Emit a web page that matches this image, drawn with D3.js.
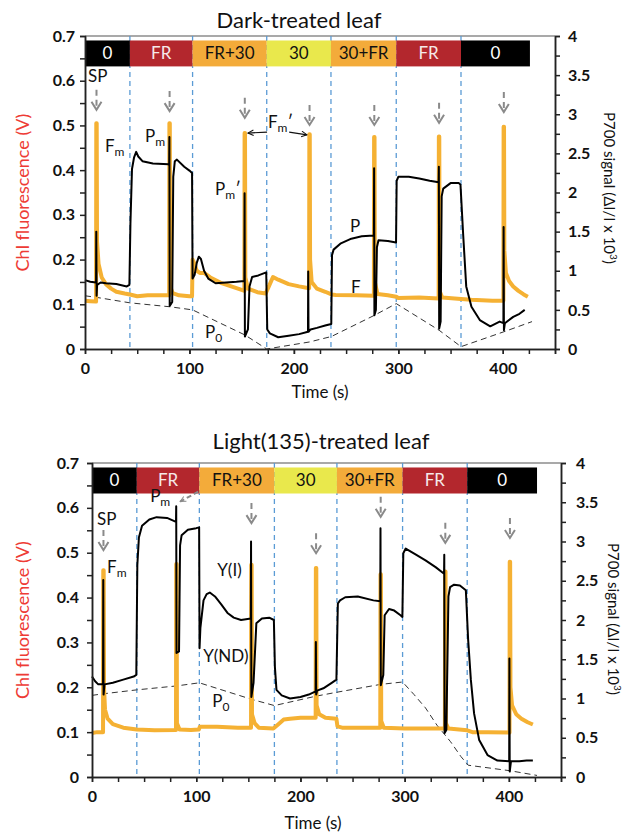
<!DOCTYPE html>
<html>
<head>
<meta charset="utf-8">
<script src="https://cdn.jsdelivr.net/npm/d3@7"></script>
<style>
  body { margin: 0; background: #fff; }
  svg { font-family: Lato, "Open Sans", sans-serif; }
</style>
</head>
<body>
<svg id="chart" width="624" height="834"></svg>
<script>
// light phases shown in the bar on top of each panel
const phaseNames = ['0', 'FR', 'FR+30', '30', '30+FR', 'FR', '0']
const phaseColors = ['#000000', '#b3272d', '#f3ab3a', '#e9e84c', '#f3ab3a', '#b3272d', '#000000']
const phaseText = ['#ffffff', '#f6e9e9', '#111111', '#111111', '#111111', '#f6e9e9', '#ffffff']
const darkPhaseT = [0, 43, 103, 174, 235.5, 298, 360, 426]
const lightPhaseT = [0, 43, 103, 175, 235, 298, 360, 427]

const xTicks = [0, 100, 200, 300, 400]
const leftTicks = [0, 0.1, 0.2, 0.3, 0.4, 0.5, 0.6, 0.7]
const rightTicks = [0, 0.5, 1, 1.5, 2, 2.5, 3, 3.5, 4]

// ---- dark-treated leaf ----
// Chl fluorescence (V), left axis
const darkF = [[0,0.108],[5,0.107],[10.6,0.106],[10.8,0.505],[11.2,0.505],[11.5,0.24],[13,0.19],[16,0.16],[20,0.145],[25,0.135],[30,0.128],[38,0.124],[43,0.122],[50,0.118],[60,0.12],[70,0.12],[80.6,0.12],[80.8,0.505],[81.2,0.505],[81.5,0.14],[84,0.125],[90,0.12],[100,0.118],[102.5,0.118],[103,0.2],[105,0.19],[107,0.175],[110,0.17],[114,0.17],[120,0.16],[130,0.148],[140,0.14],[150,0.132],[152.6,0.13],[152.8,0.483],[153.2,0.483],[153.5,0.16],[156,0.135],[165,0.127],[173,0.124],[176,0.14],[180,0.161],[185,0.155],[195,0.145],[205,0.14],[214.6,0.136],[214.8,0.48],[215.2,0.48],[215.5,0.2],[217,0.15],[222,0.135],[230,0.128],[236,0.122],[240,0.121],[260,0.12],[276.6,0.119],[276.8,0.474],[277.2,0.474],[277.5,0.15],[280,0.123],[290,0.12],[298,0.117],[300,0.114],[320,0.115],[338.6,0.113],[338.8,0.475],[339.2,0.475],[339.5,0.13],[342,0.115],[360,0.112],[370,0.11],[390,0.108],[400.6,0.108],[400.8,0.497],[401.2,0.497],[401.5,0.22],[403,0.17],[406,0.152],[410,0.14],[415,0.13],[420,0.122],[424,0.117]]
// P700 signal, right axis
const darkP = [[0,0.88],[5,0.86],[10.6,0.85],[10.8,1.5],[11.1,0.68],[11.6,0.82],[15,0.85],[20,0.84],[30,0.83],[40,0.8],[42.5,0.82],[43.5,1.6],[45,2.3],[47,2.45],[49,2.52],[51,2.46],[55,2.4],[65,2.37],[80,2.36],[80.6,2.35],[80.8,2.71],[81.1,0.55],[83.5,0.6],[84.5,2.2],[86,2.4],[88,2.42],[95,2.33],[100,2.28],[102.5,2.25],[103,0.9],[105,0.95],[107,1.1],[109,1.18],[111,1.15],[114,1.0],[118,0.9],[125,0.84],[135,0.85],[145,0.86],[152.6,0.87],[152.8,1.99],[153.1,0.16],[156,0.25],[157.5,0.8],[160,0.92],[166,0.94],[173.5,0.98],[174.5,0.25],[177,0.2],[185,0.15],[195,0.17],[205,0.19],[213.5,0.22],[213.7,0.99],[214,0.22],[216,0.25],[222,0.27],[230,0.3],[235.8,0.32],[236.5,1.2],[238,1.27],[245,1.35],[255,1.41],[265,1.44],[276.6,1.45],[276.8,2.31],[277.1,0.43],[278.5,0.5],[279.5,1.3],[281,1.39],[290,1.38],[297.8,1.36],[298.4,2.15],[300,2.2],[310,2.2],[320,2.18],[330,2.15],[338.6,2.13],[338.8,2.33],[339.1,0.26],[340.5,0.35],[341.5,1.95],[343,2.05],[350,2.12],[358,2.12],[359.5,2.1],[362,1.48],[365,0.8],[370,0.54],[378,0.37],[388,0.29],[397,0.35],[400.6,0.33],[400.8,1.56],[401.1,0.24],[402,0.33],[410,0.41],[416,0.45],[421,0.5]]
// P0 guide (dashed), right axis
const darkP0 = [[0,0.68],[11,0.66],[43,0.59],[81,0.54],[103,0.5],[153,0.18],[174,0.0],[215,0.09],[236,0.16],[277,0.43],[298,0.58],[339,0.24],[360,0.03],[401,0.22],[428,0.35]]
// saturating pulses (time) and arrow tip level (V)
const darkArrows = [[11,0.535],[81,0.532],[153,0.517],[215,0.501],[277,0.501],[339,0.506],[401,0.53]]
const darkLabels = [
  {t: 2.9, v: 0.597, text: 'SP'},
  {t: 19.1, v: 0.441, text: 'F', sub: 'm'},
  {t: 57.4, v: 0.463, text: 'P', sub: 'm'},
  {t: 124.5, v: 0.345, text: 'P', sub: 'm', post: '\u2032'},
  {t: 175.2, v: 0.494, text: 'F', sub: 'm', post: '\u2032'},
  {t: 114.9, v: 0.025, text: 'P', sub: '0'},
  {t: 253.7, v: 0.262, text: 'P'},
  {t: 254.6, v: 0.125, text: 'F'}
]
const darkFmArrows = [[[174.3, 0.485], [156, 0.483]], [[195.5, 0.485], [212.6, 0.479]]]

// ---- light(135)-treated leaf ----
const lightF = [[0,0.098],[5,0.1],[10.6,0.1],[10.8,0.461],[11.2,0.461],[11.5,0.2],[12.5,0.15],[15,0.13],[20,0.118],[30,0.11],[43,0.106],[60,0.104],[80.6,0.105],[80.8,0.475],[81.2,0.475],[81.5,0.12],[84,0.106],[95,0.105],[102.5,0.106],[103.5,0.112],[120,0.112],[140,0.11],[152.6,0.11],[152.8,0.473],[153.2,0.473],[153.5,0.14],[156,0.12],[160,0.11],[174,0.108],[178,0.116],[184,0.128],[190,0.13],[200,0.132],[214.6,0.132],[214.8,0.466],[215.2,0.466],[215.5,0.16],[218,0.14],[224,0.132],[234.5,0.13],[235.5,0.113],[240,0.11],[260,0.11],[276.6,0.11],[276.8,0.452],[277.2,0.452],[277.5,0.125],[280,0.11],[300,0.108],[320,0.108],[338.6,0.108],[338.8,0.458],[339.2,0.458],[339.5,0.12],[342,0.108],[360,0.104],[365,0.1],[380,0.1],[400.6,0.099],[400.8,0.48],[401.2,0.48],[401.5,0.2],[403,0.16],[407,0.14],[412,0.13],[418,0.122],[423,0.117]]
const lightP = [[0,1.28],[3,1.22],[6,1.18],[10.6,1.18],[10.8,2.51],[11.1,1.05],[12,1.18],[20,1.2],[30,1.24],[40,1.28],[42.5,1.3],[43.5,2.7],[45,3.05],[48,3.2],[55,3.28],[62,3.31],[72,3.3],[80.6,3.25],[80.8,3.45],[81.1,1.58],[83.5,1.6],[84.5,2.95],[86,3.08],[92,3.15],[100,3.17],[102.8,3.18],[103.2,1.64],[104,1.9],[107,2.25],[110,2.33],[113,2.35],[118,2.3],[124,2.2],[130,2.09],[136,2.03],[143,2.0],[152.4,2.02],[152.6,3.0],[152.9,1.02],[155,1.2],[157.7,1.96],[163,2.02],[170,2.03],[174.5,2.0],[175.5,1.4],[177,1.11],[182,1.04],[190,1.0],[200,1.02],[208,1.05],[214.6,1.09],[214.8,1.72],[215.1,1.05],[216,1.1],[222,1.13],[230,1.2],[234.5,1.24],[235.9,2.21],[238,2.25],[243,2.29],[255,2.3],[270,2.25],[276.6,2.24],[276.8,3.17],[277.1,1.17],[279.5,1.3],[280.8,2.06],[285,2.14],[290,2.12],[296,2.06],[297.8,2.04],[298.7,2.85],[301,2.91],[310,2.84],[320,2.76],[330,2.67],[337.8,2.59],[338,2.83],[338.3,0.56],[340,0.6],[342,2.3],[343.6,2.42],[347.4,2.45],[353,2.44],[358.7,2.38],[360.9,1.75],[363.5,1.24],[366.6,0.81],[371.5,0.47],[379.5,0.28],[389,0.21],[400.3,0.2],[400.5,1.51],[400.8,0.07],[402,0.2],[410,0.2],[417,0.21],[423,0.21]]
const lightP0 = [[0,1.04],[11,1.06],[43,1.11],[81,1.16],[103,1.2],[153,0.99],[175,0.91],[215,1.03],[235,1.08],[277,1.18],[298,1.21],[309,1.05],[320,0.88],[331,0.66],[344,0.45],[354,0.26],[361,0.15],[401,0.08],[427,0.02]]
const lightArrows = [[11,0.506],[153,0.566],[215,0.499],[277,0.58],[339,0.522],[401,0.533]]
const lightLabels = [
  {t: 4.8, v: 0.562, text: 'SP'},
  {t: 14.4, v: 0.455, text: 'F', sub: 'm'},
  {t: 55.8, v: 0.614, text: 'P', sub: 'm'},
  {t: 120.2, v: 0.447, text: 'Y(I)'},
  {t: 106.7, v: 0.257, text: 'Y(ND)'},
  {t: 115.4, v: 0.157, text: 'P', sub: '0'}
]
const lightPmArrow = [[101.9, 0.636], [84.6, 0.614]]

const svg = d3.select('#chart')

svg.append('defs').append('marker')
  .attr('id', 'open')
  .attr('viewBox', '0 0 10 10')
  .attr('refX', 9).attr('refY', 5)
  .attr('markerWidth', 7).attr('markerHeight', 7)
  .attr('markerUnits', 'userSpaceOnUse')
  .attr('orient', 'auto')
  .append('path')
  .attr('d', 'M1,1L9,5L1,9')
  .attr('fill', 'none')
  .attr('stroke', 'context-stroke')
  .attr('stroke-width', 1.4)

function drawPanel(p) {
  let g = svg.append('g')

  let x = d3.scaleLinear().domain([0, 450]).range([p.left, p.right])
  let yL = d3.scaleLinear().domain([0, 0.7]).range([p.bottom, p.top])
  let yR = d3.scaleLinear().domain([0, 4]).range([p.bottom, p.top])

  // title
  g.append('text')
    .attr('x', p.titleX).attr('y', p.titleY)
    .attr('text-anchor', 'middle')
    .attr('font-size', 22)
    .attr('fill', '#111')
    .text(p.title)

  // top border
  g.append('line')
    .attr('x1', p.left).attr('x2', p.right)
    .attr('y1', p.top).attr('y2', p.top)
    .attr('stroke', '#8c8c8c').attr('stroke-width', 1.5)

  // phase boundaries
  g.append('g').selectAll('line')
    .data(p.phaseT.slice(1, -1))
    .enter()
    .append('line')
    .attr('x1', d => x(d)).attr('x2', d => x(d))
    .attr('y1', p.top).attr('y2', p.bottom)
    .attr('stroke', '#5b9bd5')
    .attr('stroke-width', 1.3)
    .attr('stroke-dasharray', '5,4')

  // light bar
  let bar = g.append('g')
  let barTop = yL(0.69), barBot = yL(0.632)
  bar.selectAll('rect')
    .data(phaseNames)
    .enter()
    .append('rect')
    .attr('x', (d, i) => x(p.phaseT[i]))
    .attr('width', (d, i) => x(p.phaseT[i + 1]) - x(p.phaseT[i]))
    .attr('y', barTop)
    .attr('height', barBot - barTop)
    .attr('fill', (d, i) => phaseColors[i])
  bar.selectAll('text')
    .data(phaseNames)
    .enter()
    .append('text')
    .attr('x', (d, i) => (x(p.phaseT[i]) + x(p.phaseT[i + 1])) / 2)
    .attr('y', (barTop + barBot) / 2 + 6)
    .attr('text-anchor', 'middle')
    .attr('font-size', 17)
    .attr('fill', (d, i) => phaseText[i])
    .text(d => d)

  // P0 dashed guide
  g.append('path')
    .datum(p.p0)
    .attr('d', d3.line().x(d => x(d[0])).y(d => yR(d[1])))
    .attr('fill', 'none')
    .attr('stroke', '#333')
    .attr('stroke-width', 1)
    .attr('stroke-dasharray', '6,4')

  // chl fluorescence
  g.append('path')
    .datum(p.chl)
    .attr('d', d3.line().x(d => x(d[0])).y(d => yL(d[1])))
    .attr('fill', 'none')
    .attr('stroke', '#f5b133')
    .attr('stroke-width', 4)
    .attr('stroke-linejoin', 'round')

  // P700
  g.append('path')
    .datum(p.p700)
    .attr('d', d3.line().x(d => x(d[0])).y(d => yR(d[1])))
    .attr('fill', 'none')
    .attr('stroke', '#000')
    .attr('stroke-width', 2)
    .attr('stroke-linejoin', 'round')

  // SP arrows
  let arrows = g.append('g').attr('stroke', '#8a8a8a').attr('stroke-width', 2).attr('fill', 'none')
  p.arrows.forEach(a => {
    let ax = x(a[0]), ay = yL(a[1])
    arrows.append('line')
      .attr('x1', ax).attr('x2', ax)
      .attr('y1', ay - 20).attr('y2', ay - 2)
      .attr('stroke-dasharray', '6,4')
    arrows.append('path')
      .attr('d', `M${ax - 5},${ay - 8}L${ax},${ay}L${ax + 5},${ay - 8}`)
  })

  // annotations
  p.labels.forEach(l => {
    let t = g.append('text')
      .attr('x', x(l.t)).attr('y', yL(l.v))
      .attr('font-size', 17)
      .attr('fill', '#111')
    t.append('tspan').text(l.text)
    if (l.sub) t.append('tspan').attr('font-size', 12).attr('dy', 4).text(l.sub)
    if (l.post) t.append('tspan').attr('dy', -4).text(l.post)
  })

  // axes
  let axL = g.append('g')
    .attr('transform', `translate(${p.left},0)`)
    .call(d3.axisLeft(yL).tickValues(leftTicks).tickSize(5).tickSizeOuter(0)
      .tickFormat(d => d === 0 ? '0' : d3.format('.1f')(d)))
  g.append('g')
    .attr('transform', `translate(${p.left},0)`)
    .call(d3.axisLeft(yL).tickValues(leftTicks.slice(0, -1).map(d => d + 0.05)).tickSize(5).tickFormat(''))
  let axR = g.append('g')
    .attr('transform', `translate(${p.right},0)`)
    .call(d3.axisRight(yR).tickValues(rightTicks).tickSize(5).tickSizeOuter(0)
      .tickFormat(d => String(d)))
  g.append('g')
    .attr('transform', `translate(${p.right},0)`)
    .call(d3.axisRight(yR).tickValues(rightTicks.slice(0, -1).map(d => d + 0.25)).tickSize(5).tickFormat(''))
  let axB = g.append('g')
    .attr('transform', `translate(0,${p.bottom})`)
    .call(d3.axisBottom(x).tickValues(xTicks).tickSize(5).tickSizeOuter(0))
  g.append('g')
    .attr('transform', `translate(0,${p.bottom})`)
    .call(d3.axisBottom(x).tickValues(d3.range(0, 18).map(i => i * 25 + 25)).tickSize(5).tickFormat(''))

  g.selectAll('.domain, .tick line').attr('stroke', '#222').attr('stroke-width', 1.5)
  g.selectAll('.tick text')
    .attr('font-size', 16).attr('font-weight', 'bold')
    .attr('font-family', 'Lato, "Open Sans", sans-serif').attr('fill', '#111')
  axL.selectAll('.tick text').attr('x', -p.leftGap)
  axR.selectAll('.tick text').attr('x', p.rightGap)
  axB.selectAll('.tick text').attr('y', 14)

  // axis titles
  g.append('text')
    .attr('transform', `translate(${p.leftTitleX},${(p.top + p.bottom) / 2}) rotate(-90)`)
    .attr('text-anchor', 'middle')
    .attr('font-size', 18)
    .attr('fill', '#ee3b35')
    .text('Chl fluorescence (V)')
  let rt = g.append('text')
    .attr('transform', `translate(${p.rightTitleX},${p.rightTitleY}) rotate(90)`)
    .attr('text-anchor', 'middle')
    .attr('font-size', 15)
    .attr('fill', '#111')
  rt.append('tspan').text('P700 signal (\u0394I/I x 10')
  rt.append('tspan').attr('font-size', 10).attr('dy', -6).text('3')
  rt.append('tspan').attr('dy', 6).text(')')
  g.append('text')
    .attr('x', p.timeX).attr('y', p.timeY)
    .attr('text-anchor', 'middle')
    .attr('font-size', 17)
    .attr('fill', '#111')
    .text('Time (s)')

  return {g, x, yL, yR}
}

let topPanel = drawPanel({
  left: 85, right: 555, top: 36, bottom: 349,
  title: 'Dark-treated leaf', titleX: 299, titleY: 28,
  phaseT: darkPhaseT, chl: darkF, p700: darkP, p0: darkP0,
  arrows: darkArrows, labels: darkLabels,
  leftGap: 10, rightGap: 13, leftTitleX: 29, rightTitleX: 604, rightTitleY: 188,
  timeX: 320, timeY: 398
})

// double-headed Fm' arrow
darkFmArrows.forEach(a => {
  topPanel.g.append('path')
    .datum(a)
    .attr('d', d3.line().x(d => topPanel.x(d[0])).y(d => topPanel.yL(d[1])))
    .attr('fill', 'none')
    .attr('stroke', '#111')
    .attr('stroke-width', 1.2)
    .attr('marker-end', 'url(#open)')
})

let bottomPanel = drawPanel({
  left: 92, right: 561, top: 463, bottom: 777,
  title: 'Light(135)-treated leaf', titleX: 321, titleY: 449,
  phaseT: lightPhaseT, chl: lightF, p700: lightP, p0: lightP0,
  arrows: lightArrows, labels: lightLabels,
  leftGap: 13, rightGap: 15, leftTitleX: 29, rightTitleX: 608, rightTitleY: 619,
  timeX: 313, timeY: 829
})

bottomPanel.g.append('path')
  .datum(lightPmArrow)
  .attr('d', d3.line().x(d => bottomPanel.x(d[0])).y(d => bottomPanel.yL(d[1])))
  .attr('fill', 'none')
  .attr('stroke', '#8a8a8a')
  .attr('stroke-width', 2)
  .attr('stroke-dasharray', '5,3')
  .attr('marker-end', 'url(#open)')
</script>
</body>
</html>
